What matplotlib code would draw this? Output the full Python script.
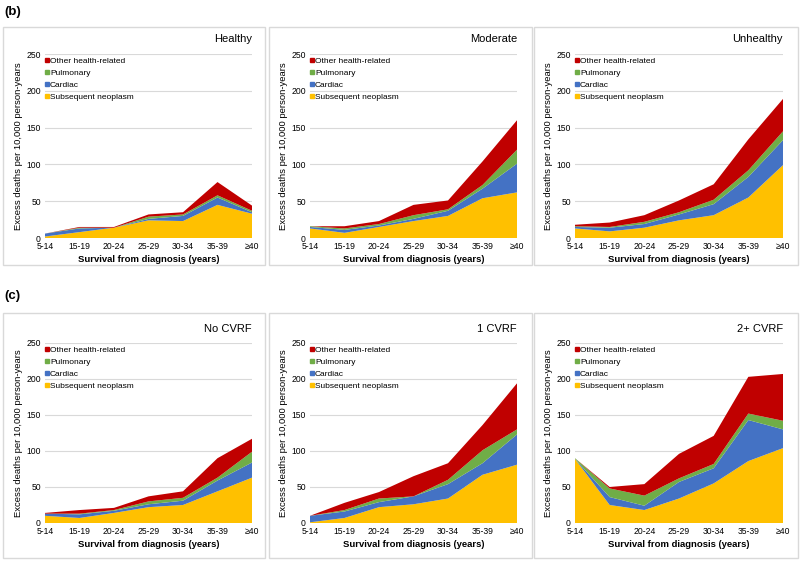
import numpy as np
import matplotlib
matplotlib.use('Agg')
import matplotlib.pyplot as plt
from matplotlib.lines import Line2D
from matplotlib.patches import Rectangle

plt.rcParams['font.family'] = ['Liberation Sans', 'DejaVu Sans']

# Categories (survival from diagnosis)
periods = ['5-14', '15-19', '20-24', '25-29', '30-34', '35-39', '≥40']
series_names = ['Subsequent neoplasm', 'Cardiac', 'Pulmonary', 'Other health-related']
colors = ['#FFC000', '#4472C4', '#70AD47', '#C00000']

# (b) lifestyle groups
healthy_neo = [2, 8, 14, 24, 23, 45, 33]
healthy_card = [4, 5, 0, 2, 7, 10, 2]
healthy_pulm = [0, 1, 0, 3, 2, 3, 2]
healthy_other = [0, 1, 1, 3, 3, 18, 7]

moderate_neo = [13, 7, 15, 23, 30, 54, 62]
moderate_card = [2, 4, 2, 3, 7, 13, 39]
moderate_pulm = [1, 2, 2, 5, 2, 5, 19]
moderate_other = [0, 3, 4, 14, 12, 32, 40]

unhealthy_neo = [13, 9, 14, 24, 31, 55, 99]
unhealthy_card = [2, 5, 5, 8, 15, 28, 34]
unhealthy_pulm = [1, 1, 3, 3, 6, 9, 12]
unhealthy_other = [2, 6, 9, 16, 21, 42, 44]

# (c) cardiovascular risk factor groups
nocvrf_neo = [10, 7, 14, 22, 25, 44, 63]
nocvrf_card = [3, 5, 3, 4, 6, 15, 21]
nocvrf_pulm = [0, 1, 1, 4, 4, 4, 15]
nocvrf_other = [1, 5, 3, 7, 9, 27, 18]

cvrf1_neo = [1, 7, 22, 26, 34, 67, 81]
cvrf1_card = [9, 9, 7, 11, 20, 16, 42]
cvrf1_pulm = [0, 2, 5, 0, 6, 18, 7]
cvrf1_other = [0, 10, 9, 28, 23, 35, 64]

cvrf2_neo = [89, 25, 18, 34, 55, 86, 104]
cvrf2_card = [0, 11, 6, 23, 21, 57, 26]
cvrf2_pulm = [1, 12, 14, 5, 6, 9, 12]
cvrf2_other = [0, 2, 16, 34, 39, 51, 65]

panels = [
    ('Healthy', [healthy_neo, healthy_card, healthy_pulm, healthy_other]),
    ('Moderate', [moderate_neo, moderate_card, moderate_pulm, moderate_other]),
    ('Unhealthy', [unhealthy_neo, unhealthy_card, unhealthy_pulm, unhealthy_other]),
    ('No CVRF', [nocvrf_neo, nocvrf_card, nocvrf_pulm, nocvrf_other]),
    ('1 CVRF', [cvrf1_neo, cvrf1_card, cvrf1_pulm, cvrf1_other]),
    ('2+ CVRF', [cvrf2_neo, cvrf2_card, cvrf2_pulm, cvrf2_other]),
]

W, H = 801, 562
fig = plt.figure(figsize=(W / 100, H / 100), dpi=100)


def fx(px):
    return px / W


def fy(py):
    return 1 - py / H


# panel boxes (pixel coords)
box_cols = [(3, 265), (269, 532), (534, 798)]
box_rows = [(27, 265), (313, 558)]
# plot areas
ax_cols = [(45, 252), (310, 517), (575, 783)]
ax_rows = [(54, 238), (343, 523)]

for (t, b) in box_rows:
    for (l, r) in box_cols:
        fig.patches.append(Rectangle((fx(l), fy(b)), fx(r - l), (b - t) / H,
                                     transform=fig.transFigure, fill=False,
                                     edgecolor='#D9D9D9', linewidth=1))

fig.text(fx(4), fy(12), '(b)', fontsize=9.5, fontweight='bold', va='center', ha='left')
fig.text(fx(4), fy(296), '(c)', fontsize=9.5, fontweight='bold', va='center', ha='left')

x = np.arange(len(periods))
for i, (title, vals) in enumerate(panels):
    t, b = ax_rows[i // 3]
    l, r = ax_cols[i % 3]
    ax = fig.add_axes([fx(l), fy(b), fx(r - l), (b - t) / H])
    ax.stackplot(x, *[np.array(v) for v in vals], colors=colors, linewidth=0)
    ax.set_xlim(0, len(periods) - 1)
    ax.set_ylim(0, 250)
    ax.set_yticks(range(0, 251, 50))
    ax.set_xticks(x)
    ax.set_xticklabels(periods)
    ax.tick_params(axis='both', labelsize=6.2, length=0, pad=3)
    ax.grid(axis='y', color='#D9D9D9', linewidth=0.8)
    ax.set_axisbelow(True)
    for s in ax.spines.values():
        s.set_visible(False)
    ax.axhline(0, color='#D9D9D9', linewidth=0.8, zorder=0)
    ax.set_xlabel('Survival from diagnosis (years)', fontsize=6.8, fontweight='bold', labelpad=3)
    ax.set_ylabel('Excess deaths per 10,000 person-years', fontsize=6.8, labelpad=2)
    ax.text(1.0, 1.08, title, transform=ax.transAxes, ha='right', va='center', fontsize=8)

    handles = [Line2D([], [], marker='s', linestyle='none', markersize=3.2,
                      color=colors[k], label=series_names[k]) for k in range(3, -1, -1)]
    ax.legend(handles=handles, loc='upper left', bbox_to_anchor=(-0.01, 0.99),
              frameon=False, fontsize=6, handlelength=0.5, handletextpad=0.15,
              labelspacing=0.5, borderpad=0.2, borderaxespad=0)

fig.savefig('out.png', dpi=100)
